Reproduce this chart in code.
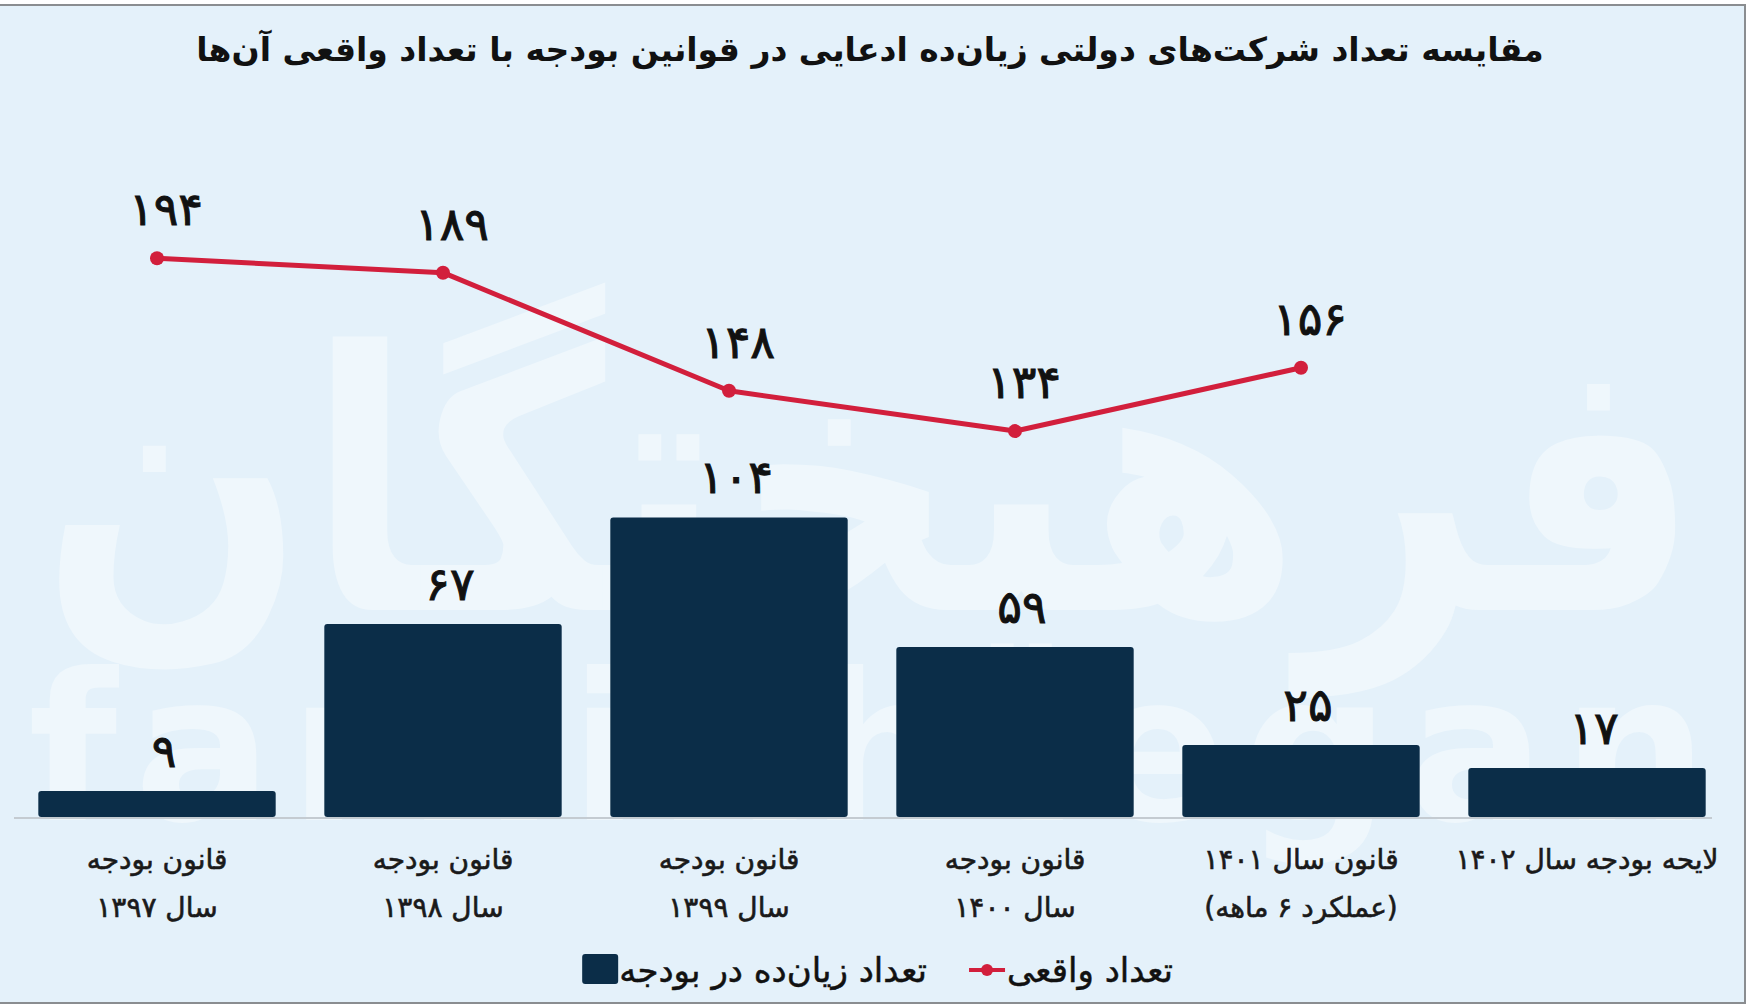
<!DOCTYPE html>
<html>
<head>
<meta charset="utf-8">
<script src="https://cdn.jsdelivr.net/npm/d3@7"></script>
<style>
  html, body { margin: 0; padding: 0; background: #ffffff; }
  svg { display: block; }
  text { font-family: 'DejaVu Sans', sans-serif; }
</style>
</head>
<body>
<div id="wrapper"></div>
<script>
// data
const categories = ['b1397', 'b1398', 'b1399', 'b1400', 'b1401', 'b1402'];
const categoryLines = [
  ['قانون بودجه', 'سال ۱۳۹۷'],
  ['قانون بودجه', 'سال ۱۳۹۸'],
  ['قانون بودجه', 'سال ۱۳۹۹'],
  ['قانون بودجه', 'سال ۱۴۰۰'],
  ['قانون سال ۱۴۰۱', '(عملکرد ۶ ماهه)'],
  ['لایحه بودجه سال ۱۴۰۲'],
];
const budgetValues = [9, 67, 104, 59, 25, 17];
const actualValues = [194, 189, 148, 134, 156];
const titleText = 'مقایسه تعداد شرکت\u200cهای دولتی زیان\u200cده ادعایی در قوانین بودجه با تعداد واقعی آن\u200cها';
const legendBudget = 'تعداد زیان\u200cده در بودجه';
const legendActual = 'تعداد واقعی';

function drawChart() {
  const toFa = (n) => String(n).replace(/\d/g, (d) => '۰۱۲۳۴۵۶۷۸۹'[d]);

  // dimensions
  const dimensions = { width: 1749, height: 1006, baseline: 817 };

  const wrapper = d3
    .select('#wrapper')
    .append('svg')
    .attr('width', dimensions.width)
    .attr('height', dimensions.height);

  // background + frame
  wrapper.append('rect')
    .attr('x', 0).attr('y', 5)
    .attr('width', 1745).attr('height', 998)
    .attr('fill', '#e4f1fa');
  wrapper.append('line')
    .attr('x1', 0).attr('x2', 1746).attr('y1', 5).attr('y2', 5)
    .attr('stroke', '#8a8d90').attr('stroke-width', 2);
  wrapper.append('line')
    .attr('x1', 1745).attr('x2', 1745).attr('y1', 5).attr('y2', 1004)
    .attr('stroke', '#8a8d90').attr('stroke-width', 2);
  wrapper.append('line')
    .attr('x1', 0).attr('x2', 1746).attr('y1', 1003).attr('y2', 1003)
    .attr('stroke', '#8a8d90').attr('stroke-width', 2);

  // watermark
  const watermark = wrapper.append('g').attr('fill', '#eff7fc');
  watermark.append('text')
    .attr('x', 870).attr('y', 610)
    .attr('text-anchor', 'middle')
    .attr('direction', 'rtl')
    .attr('font-size', 360)
    .attr('font-weight', 'bold')
    .attr('textLength', 1660)
    .attr('lengthAdjust', 'spacingAndGlyphs')
    .text('فرهیختگان');
  watermark.append('text')
    .attr('x', 868).attr('y', 820)
    .attr('text-anchor', 'middle')
    .attr('font-size', 205)
    .attr('font-weight', 'bold')
    .attr('textLength', 1680)
    .attr('lengthAdjust', 'spacing')
    .text('farhikhtegan');

  // scales
  const xScale = d3
    .scaleBand()
    .domain(categories)
    .range([14, 1730])
    .paddingInner(0.17)
    .paddingOuter(0.085);

  const yScale = d3
    .scaleLinear()
    .domain([0, 200])
    .range([dimensions.baseline, dimensions.baseline - 576]);

  const xCenter = (i) => xScale(categories[i]) + xScale.bandwidth() / 2;

  // title
  wrapper.append('text')
    .attr('x', 870).attr('y', 61)
    .attr('text-anchor', 'middle')
    .attr('direction', 'rtl')
    .attr('font-size', 33)
    .attr('font-weight', 'bold')
    .attr('fill', '#111')
    .text(titleText);

  // baseline
  wrapper.append('line')
    .attr('x1', 14).attr('x2', 1712)
    .attr('y1', dimensions.baseline + 1).attr('y2', dimensions.baseline + 1)
    .attr('stroke', '#c4cbd1').attr('stroke-width', 2);

  // bars
  const bars = wrapper.append('g');
  bars.selectAll('rect')
    .data(budgetValues)
    .join('rect')
    .attr('x', (d, i) => xScale(categories[i]))
    .attr('y', (d) => yScale(d))
    .attr('width', xScale.bandwidth())
    .attr('height', (d) => dimensions.baseline - yScale(d))
    .attr('rx', 3)
    .attr('fill', '#0b2d48');

  const numberStyle = (sel) =>
    sel
      .attr('text-anchor', 'middle')
      .attr('font-size', 46)
      .attr('letter-spacing', 16)
      .attr('fill', '#111')
      .attr('stroke', '#111')
      .attr('stroke-width', 1);

  bars.selectAll('text')
    .data(budgetValues)
    .join('text')
    .attr('x', (d, i) => xCenter(i) + 7)
    .attr('y', (d) => yScale(d) - 24)
    .call(numberStyle)
    .text((d) => toFa(d));

  // line
  const lineGroup = wrapper.append('g');
  const lineGenerator = d3
    .line()
    .x((d, i) => xCenter(i))
    .y((d) => yScale(d));

  lineGroup.append('path')
    .attr('d', lineGenerator(actualValues))
    .attr('fill', 'none')
    .attr('stroke', '#d21f3c')
    .attr('stroke-width', 5)
    .attr('stroke-linejoin', 'round');

  lineGroup.selectAll('circle')
    .data(actualValues)
    .join('circle')
    .attr('cx', (d, i) => xCenter(i))
    .attr('cy', (d) => yScale(d))
    .attr('r', 7)
    .attr('fill', '#d21f3c');

  lineGroup.selectAll('text')
    .data(actualValues)
    .join('text')
    .attr('x', (d, i) => xCenter(i) + 9)
    .attr('y', (d) => yScale(d) - 33)
    .call(numberStyle)
    .text((d) => toFa(d));

  // category labels
  const labels = wrapper.append('g');
  categoryLines.forEach((lines, i) => {
    lines.forEach((line, j) => {
      labels.append('text')
        .attr('x', xCenter(i))
        .attr('y', 869 + j * 48)
        .attr('text-anchor', 'middle')
        .attr('direction', 'rtl')
        .attr('font-size', 28)
        .attr('fill', '#1a1a1a')
        .attr('stroke', '#1a1a1a')
        .attr('stroke-width', 0.6)
        .text(line);
    });
  });

  // legend
  const legend = wrapper.append('g');
  const actualText = legend.append('text')
    .attr('x', 1173).attr('y', 982)
    .attr('text-anchor', 'end')
    .attr('font-size', 34)
    .attr('fill', '#111')
    .attr('stroke', '#111')
    .attr('stroke-width', 0.5)
    .text(legendActual);
  const actualLeft = 1173 - actualText.node().getComputedTextLength();
  legend.append('line')
    .attr('x1', actualLeft - 38).attr('x2', actualLeft - 2)
    .attr('y1', 970).attr('y2', 970)
    .attr('stroke', '#d21f3c').attr('stroke-width', 4);
  legend.append('circle')
    .attr('cx', actualLeft - 20).attr('cy', 970).attr('r', 6)
    .attr('fill', '#d21f3c');

  const budgetRight = actualLeft - 80;
  const budgetText = legend.append('text')
    .attr('x', budgetRight).attr('y', 982)
    .attr('text-anchor', 'end')
    .attr('font-size', 34)
    .attr('fill', '#111')
    .attr('stroke', '#111')
    .attr('stroke-width', 0.5)
    .text(legendBudget);
  const budgetLeft = budgetRight - budgetText.node().getComputedTextLength();
  legend.append('rect')
    .attr('x', budgetLeft - 37).attr('y', 954)
    .attr('width', 36).attr('height', 30)
    .attr('rx', 3)
    .attr('fill', '#0b2d48');
}
drawChart();
</script>
</body>
</html>
